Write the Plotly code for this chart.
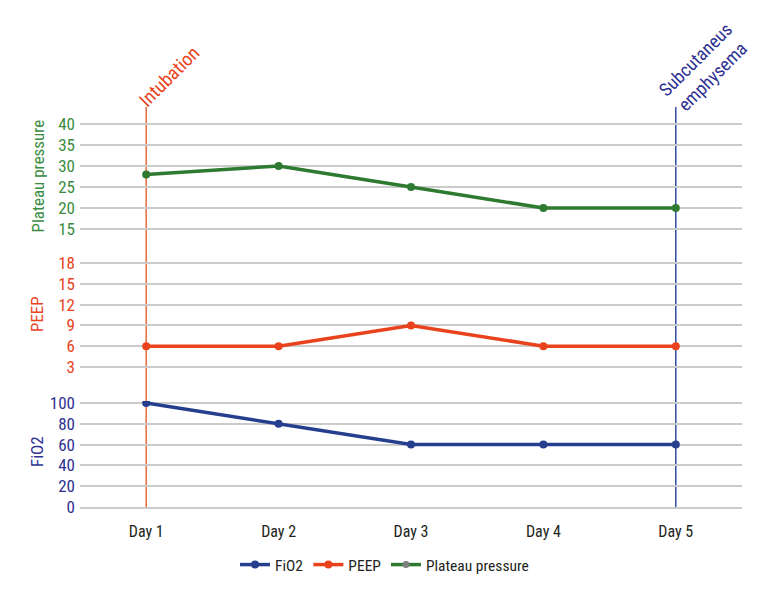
import plotly.graph_objects as go

days = ["Day 1", "Day 2", "Day 3", "Day 4", "Day 5"]
fio2 = [100, 80, 60, 60, 60]
peep = [6, 6, 9, 6, 6]
plateau = [28, 30, 25, 20, 20]

fio2_ticks = [0, 20, 40, 60, 80, 100]
peep_ticks = [3, 6, 9, 12, 15, 18]
plateau_ticks = [15, 20, 25, 30, 35, 40]

events = [("Intubation", "Day 1"), ("Subcutaneus<br>emphysema", "Day 5")]

FONT = "Roboto Condensed, DejaVu Sans Condensed, sans-serif"
C_FIO2 = "#263E8E"
C_FIO2_T = "#2E3192"
C_PEEP = "#E8431D"
C_PLAT = "#2D7A30"
C_PLAT_T = "#3A8C3F"
GRID = "#CBCBCB"

# plot area pixels
TOP, BOT = 100, 507
H = BOT - TOP
L, R = 80, 742


def domain(v1, p1, v2, p2, lo, hi):
    k = (p1 - p2) / (v2 - v1)
    pb = p1 + (v1 - lo) * k
    pt = p2 - (hi - v2) * k
    return [max(0, (BOT - pb) / H), min(1, (BOT - pt) / H)]


fig = go.Figure()
fig.add_trace(go.Scatter(x=days, y=fio2, name="FiO2", yaxis="y", mode="lines+markers",
                         line=dict(color=C_FIO2, width=3.5), marker=dict(size=8, color=C_FIO2)))
fig.add_trace(go.Scatter(x=days, y=peep, name="PEEP", yaxis="y2", mode="lines+markers",
                         line=dict(color=C_PEEP, width=3.5), marker=dict(size=8, color=C_PEEP)))
fig.add_trace(go.Scatter(x=days, y=plateau, name="Plateau pressure", yaxis="y3", mode="lines+markers",
                         line=dict(color=C_PLAT, width=3.5), marker=dict(size=8, color=C_PLAT),
                         showlegend=False))
fig.add_trace(go.Scatter(x=[None], y=[None], name="Plateau pressure", yaxis="y3", mode="lines+markers",
                         line=dict(color=C_PLAT, width=3.5), marker=dict(size=7, color="#7F7F7F")))

common = dict(showgrid=True, gridcolor=GRID, gridwidth=1.5, zeroline=False, showline=False,
              ticks="", anchor="x", ticklabelstandoff=4)
TICK = 17

fig.update_layout(
    width=780, height=600,
    margin=dict(l=L, r=780 - R, t=TOP, b=600 - BOT),
    paper_bgcolor="white", plot_bgcolor="white",
    font=dict(family=FONT, size=16, color="#231F20"),
    xaxis=dict(type="category", range=[-0.5, 4.5], showgrid=False, zeroline=False,
               showline=True, linecolor=GRID, linewidth=1.5, ticks="",
               tickfont=dict(family=FONT, size=16, color="#231F20"), ticklabelstandoff=9),
    yaxis=dict(range=[0, 102], domain=domain(0, 507, 100, 403, 0, 102), tickvals=fio2_ticks,
               tickfont=dict(family=FONT, size=TICK, color=C_FIO2_T), **common),
    yaxis2=dict(range=[2, 19], domain=domain(3, 367, 18, 263, 2, 19), tickvals=peep_ticks,
                tickfont=dict(family=FONT, size=TICK, color=C_PEEP), **common),
    yaxis3=dict(range=[14, 41], domain=domain(15, 229, 40, 124, 14, 41), tickvals=plateau_ticks,
                tickfont=dict(family=FONT, size=TICK, color=C_PLAT_T), **common),
    legend=dict(orientation="h", x=0.46, xanchor="center", y=(BOT - 565) / H, yanchor="middle",
                font=dict(family=FONT, size=15.5, color="#231F20"), itemwidth=30, tracegroupgap=0),
    showlegend=True,
)

# axis titles
titles = [("Plateau pressure", 176.5, C_PLAT_T), ("PEEP", 314, C_PEEP), ("FiO2", 452, C_FIO2_T)]
for txt, py, col in titles:
    fig.add_annotation(text=txt, xref="paper", yref="paper", x=(37 - L) / (R - L), y=(BOT - py) / H,
                       xanchor="center", yanchor="middle", textangle=-90, showarrow=False,
                       font=dict(family=FONT, size=17, color=col))

# event lines
ev_line = ["#E8693C", "#2F4DA1"]
ev_text = [C_PEEP, C_FIO2_T]
shifts = [(23, 24), (29, 32)]
sizes = [19, 18.5]
for (label, day), lc, tc, (dx, dy), fs in zip(events, ev_line, ev_text, shifts, sizes):
    fig.add_shape(type="line", xref="x", yref="paper", x0=day, x1=day, y0=0, y1=(BOT - 107) / H,
                  line=dict(color=lc, width=1.5), layer="between")
    fig.add_annotation(text=label, xref="x", yref="paper", x=day, y=1, xanchor="center", yanchor="middle",
                       xshift=dx, yshift=dy, textangle=-45, showarrow=False,
                       font=dict(family=FONT, size=fs, color=tc))

fig.write_html("out.html", config={"displayModeBar": False},
               post_script="document.body.style.margin='0';")
